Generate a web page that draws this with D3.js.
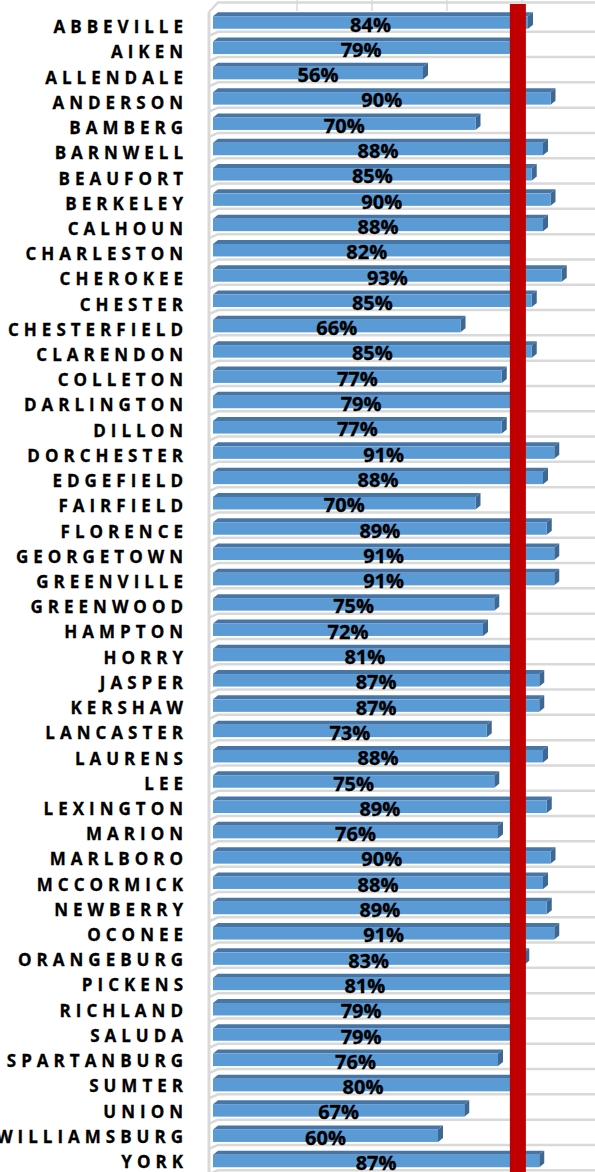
<!DOCTYPE html>
<html>
<head>
<meta charset="utf-8">
<script src="https://cdn.jsdelivr.net/npm/d3@7"></script>
<style>
  html, body { margin: 0; padding: 0; background: #fff; }
  svg { display: block; }
</style>
</head>
<body>
<svg id="chart" width="595" height="1172"></svg>
<script>
const counties = ['ABBEVILLE', 'AIKEN', 'ALLENDALE', 'ANDERSON', 'BAMBERG', 'BARNWELL', 'BEAUFORT', 'BERKELEY',
  'CALHOUN', 'CHARLESTON', 'CHEROKEE', 'CHESTER', 'CHESTERFIELD', 'CLARENDON', 'COLLETON', 'DARLINGTON',
  'DILLON', 'DORCHESTER', 'EDGEFIELD', 'FAIRFIELD', 'FLORENCE', 'GEORGETOWN', 'GREENVILLE', 'GREENWOOD',
  'HAMPTON', 'HORRY', 'JASPER', 'KERSHAW', 'LANCASTER', 'LAURENS', 'LEE', 'LEXINGTON', 'MARION', 'MARLBORO',
  'MCCORMICK', 'NEWBERRY', 'OCONEE', 'ORANGEBURG', 'PICKENS', 'RICHLAND', 'SALUDA', 'SPARTANBURG', 'SUMTER',
  'UNION', 'WILLIAMSBURG', 'YORK']

const percents = [84, 79, 56, 90, 70, 88, 85, 90,
  88, 82, 93, 85, 66, 85, 77, 79,
  77, 91, 88, 70, 89, 91, 91, 75,
  72, 81, 87, 87, 73, 88, 75, 89, 76, 90,
  88, 89, 91, 83, 81, 79, 79, 76, 80,
  67, 60, 87]

// state target shown as the thick red marker
const target = [81.3]

const gridTicks = [20, 40, 60, 80, 100]

const width = 595
const height = 1172

const svg = d3.select('#chart')

const x = d3.scaleLinear().domain([0, 100]).range([213, 588])
const yBar = d3.scalePoint().domain(counties).range([20.5, 1159])
const yLabel = d3.scalePoint().domain(counties).range([26.7, 1161.5])

const barH = 16.5
const topH = 4
const depth = 5
const wallX = 209
const gridColor = '#d9d9d9'

const rows = counties.map((c, i) => ({ county: c, value: percents[i] }))

// back-wall gridlines peeking above the first bar
svg.append('g')
  .selectAll('line')
  .data(gridTicks)
  .join('line')
  .attr('x1', d => x(d) + 9)
  .attr('x2', d => x(d) + 9)
  .attr('y1', 0)
  .attr('y2', 11)
  .attr('stroke', gridColor)
  .attr('stroke-width', 1.5)

// top edge of the plot
svg.append('path')
  .attr('d', `M${wallX},12 L${wallX + 9},2.5 L${width},2.5`)
  .attr('fill', 'none')
  .attr('stroke', gridColor)
  .attr('stroke-width', 2.5)

// left wall
svg.append('line')
  .attr('x1', wallX)
  .attr('x2', wallX)
  .attr('y1', 12)
  .attr('y2', height)
  .attr('stroke', gridColor)
  .attr('stroke-width', 3)

// floor line under every row
svg.append('g')
  .selectAll('path')
  .data(rows)
  .join('path')
  .attr('d', d => {
    const b = yBar(d.county) - barH / 2 + barH
    return `M${wallX},${b + 7} L${wallX + 9},${b + 3} L${width},${b + 3}`
  })
  .attr('fill', 'none')
  .attr('stroke', gridColor)
  .attr('stroke-width', 2.5)

const bars = svg.append('g')
  .selectAll('g')
  .data(rows)
  .join('g')

// top face
bars.append('path')
  .attr('d', d => {
    const t = yBar(d.county) - barH / 2
    const x0 = x(0)
    const xe = x(d.value)
    return `M${x0},${t + topH} L${x0 + depth},${t} L${xe + depth},${t} L${xe},${t + topH} Z`
  })
  .attr('fill', '#4776a6')

// side face
bars.append('path')
  .attr('d', d => {
    const t = yBar(d.county) - barH / 2
    const xe = x(d.value)
    return `M${xe},${t + topH} L${xe + depth},${t} L${xe + depth},${t + barH - topH} L${xe},${t + barH} Z`
  })
  .attr('fill', '#3d6894')

// front face
bars.append('rect')
  .attr('x', x(0))
  .attr('y', d => yBar(d.county) - barH / 2 + topH)
  .attr('width', d => x(d.value) - x(0))
  .attr('height', barH - topH)
  .attr('fill', '#5b9bd5')

// target marker
svg.append('g')
  .selectAll('rect')
  .data(target)
  .join('rect')
  .attr('x', d => x(d) - 8)
  .attr('y', 4)
  .attr('width', 16)
  .attr('height', height - 4)
  .attr('fill', '#c00000')

// value labels
svg.append('g')
  .selectAll('text')
  .data(rows)
  .join('text')
  .attr('x', d => (x(0) + x(d.value)) / 2)
  .attr('y', d => yBar(d.county) + 3.5)
  .attr('text-anchor', 'middle')
  .attr('dominant-baseline', 'central')
  .attr('font-family', '"Open Sans", sans-serif')
  .attr('font-weight', 700)
  .attr('font-size', 20)
  .attr('fill', '#000')
  .attr('stroke', '#000')
  .attr('stroke-width', 0.3)
  .text(d => d.value + '%')

// county labels
svg.append('g')
  .selectAll('text')
  .data(rows)
  .join('text')
  .attr('x', 188)
  .attr('y', d => yLabel(d.county))
  .attr('text-anchor', 'end')
  .attr('dominant-baseline', 'central')
  .attr('font-family', '"Open Sans", sans-serif')
  .attr('font-weight', 700)
  .attr('font-size', 17)
  .attr('letter-spacing', 5)
  .attr('fill', '#000')
  .attr('stroke', '#000')
  .attr('stroke-width', 0.3)
  .text(d => d.county)
</script>
</body>
</html>
